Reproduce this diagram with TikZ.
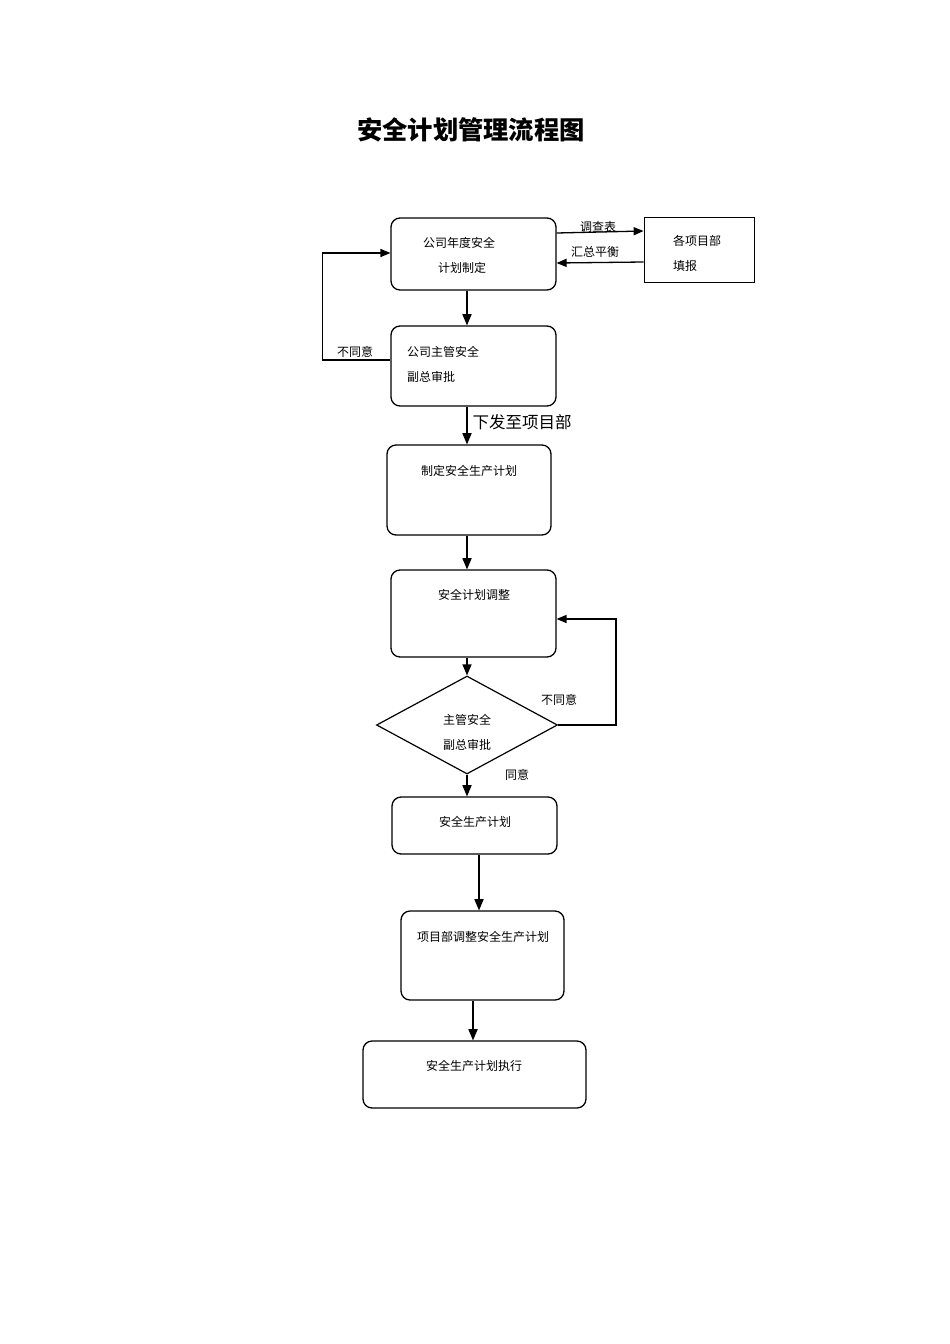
\documentclass[tikz,border=0pt]{standalone}
\usepackage{fontspec}
\setmainfont{Noto Sans CJK SC}
\usetikzlibrary{arrows,shapes.geometric}

\begin{document}
\begin{tikzpicture}[x=1pt,y=-1pt,->,>=triangle 45,
    main node/.style={draw,rounded corners=9pt,line width=1.3pt,inner sep=0pt},
    side node/.style={draw,line width=1pt,inner sep=0pt},
    text node/.style={inner sep=0pt,font=\fontsize{12}{12}\selectfont},
    flow/.style={line width=1.6pt},
    back/.style={line width=1.3pt}]

    \useasboundingbox (0,0) rectangle (950,1344);

    \node[inner sep=0pt,font=\fontsize{25.3}{26}\selectfont\bfseries] (0) at (471,130) {安全计划管理流程图};

    \node[main node,minimum width=165pt,minimum height=72pt] (1) at (473.5,254) {};
    \node[side node,minimum width=110pt,minimum height=65pt] (2) at (699,249.5) {};
    \node[main node,minimum width=165pt,minimum height=80pt] (3) at (473.5,366) {};
    \node[main node,minimum width=164pt,minimum height=90pt] (4) at (469,490) {};
    \node[main node,minimum width=165pt,minimum height=87pt] (5) at (473.5,613.5) {};
    \node[draw,diamond,line width=1.2pt,inner sep=0pt,minimum width=181pt,minimum height=98pt] (6) at (467,725) {};
    \node[main node,minimum width=165pt,minimum height=57pt] (7) at (474.5,825.5) {};
    \node[main node,minimum width=163pt,minimum height=89pt] (8) at (482.5,955.5) {};
    \node[main node,minimum width=223pt,minimum height=67pt] (9) at (474.5,1074.5) {};

    % box texts
    \node[text node] (1a) at (459,243) {公司年度安全};
    \node[text node] (1b) at (462,268) {计划制定};
    \node[text node,anchor=west] (2a) at (673,241) {各项目部};
    \node[text node,anchor=west] (2b) at (673,266) {填报};
    \node[text node,anchor=west] (3a) at (407,352) {公司主管安全};
    \node[text node,anchor=west] (3b) at (407,377) {副总审批};
    \node[text node] (4a) at (469,471) {制定安全生产计划};
    \node[text node] (5a) at (474,595) {安全计划调整};
    \node[text node] (6a) at (467,720) {主管安全};
    \node[text node] (6b) at (467,745) {副总审批};
    \node[text node] (7a) at (475,822) {安全生产计划};
    \node[text node] (8a) at (483,937) {项目部调整安全生产计划};
    \node[text node] (9a) at (474,1066) {安全生产计划执行};

    % edge labels
    \node[text node] (l1) at (598,227) {调查表};
    \node[text node] (l2) at (595,252) {汇总平衡};
    \node[text node] (l3) at (355,352) {不同意};
    \node[inner sep=0pt,font=\fontsize{16.5}{17}\selectfont] (l4) at (522,422) {下发至项目部};
    \node[text node] (l5) at (559,700) {不同意};
    \node[text node] (l6) at (517,775) {同意};

    \draw[back] ([yshift=21pt]1.east) -- ([yshift=18.5pt]2.west);
    \draw[back] ([yshift=-12.5pt]2.west) -- ([yshift=-9pt]1.east);
    \draw[flow] ([xshift=-6.5pt]1.south) -- ([xshift=-6.5pt]3.north);
    \draw[back] ([yshift=6pt]3.west) -- ++(-68,0) |- ([yshift=1pt]1.west);
    \draw[flow] ([xshift=-6.5pt]3.south) -- ([xshift=-6.5pt]3.south |- 4.north);
    \draw[flow] ([xshift=-2pt]4.south) -- ([xshift=-2pt]4.south |- 5.north);
    \draw[flow] (5.south -| 6.north) -- (6.north);
    \draw[back] (6.east) -- ++(58,0) |- ([yshift=-5.5pt]5.east);
    \draw[flow] (6.south) -- (6.south |- 7.north);
    \draw[flow] ([xshift=4.5pt]7.south) -- ([xshift=4.5pt]7.south |- 8.north);
    \draw[flow] ([xshift=-9.5pt]8.south) -- ([xshift=-9.5pt]8.south |- 9.north);
\end{tikzpicture}
\end{document}
